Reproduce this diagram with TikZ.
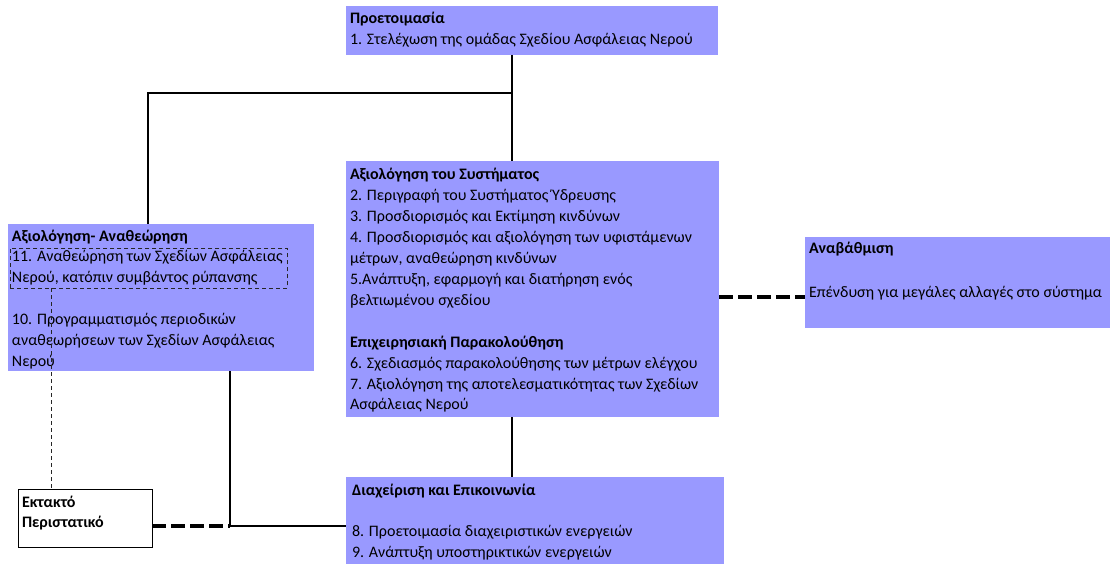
\documentclass[tikz,border=0pt]{standalone}
\usepackage{fontspec}
\setmainfont{Carlito}
\definecolor{boxblue}{RGB}{153,153,255}
\tikzset{
  panel/.style={fill=boxblue, draw=none, anchor=north west, inner sep=0pt, outer sep=0pt},
  whitepanel/.style={fill=white, draw=black, line width=1pt, anchor=north west, inner sep=0pt, outer sep=0pt},
  caption/.style={anchor=base west, inner sep=0pt, outer sep=0pt, font=\fontsize{16pt}{20.9pt}\selectfont},
  link/.style={line width=2pt},
  heavydash/.style={line width=4.3pt, dash pattern=on 14pt off 5pt},
  finedash/.style={line width=0.9pt, dash pattern=on 4pt off 3pt, draw=black!85},
}
\begin{document}
\begin{tikzpicture}[x=1pt,y=-1pt]
\useasboundingbox (0,0) rectangle (1110,564);

% panels
\node[panel, minimum width=372pt, minimum height=49pt] (prep) at (346,6) {};
\node[panel, minimum width=373pt, minimum height=256pt] (sys) at (346,161) {};
\node[panel, minimum width=306pt, minimum height=147pt] (rev) at (8,224) {};
\node[panel, minimum width=305pt, minimum height=91pt] (upg) at (805,237) {};
\node[panel, minimum width=378pt, minimum height=87pt] (mgmt) at (346,477) {};
\node[whitepanel, minimum width=134pt, minimum height=58pt] (emerg) at (18,489) {};

% junction points of the connectors
\coordinate (j1) at (512,93);
\coordinate (j2) at (148,93);
\coordinate (j3) at (230,526);
\coordinate (j4) at (762,297);
\coordinate (dropA) at (51,288);

% solid connectors
\draw[link] (j1 |- prep.south) -- (j1 |- sys.north);
\draw[link] (j1) -- (j2) -- (j2 |- rev.north);
\draw[link] (j1 |- sys.south) -- (j1 |- mgmt.north);
\draw[link] (j3 |- rev.south) -- (j3) -- (j3 -| mgmt.west);

% heavy dashed connectors
\draw[heavydash] (j3 -| emerg.east) -- (j3);
\draw[heavydash] (j4 -| sys.east) -- (j4 -| upg.west);

% texts
\node[caption] (prepText) at (350,24) {\parbox[t]{366pt}{\textbf{Προετοιμασία}\\
1. Στελέχωση της ομάδας Σχεδίου Ασφάλειας Νερού}};

\node[caption] (sysText) at (350,180) {\parbox[t]{366pt}{\textbf{Αξιολόγηση του Συστήματος}\\
2. Περιγραφή του Συστήματος Ύδρευσης\\
3. Προσδιορισμός και Εκτίμηση κινδύνων\\
4. Προσδιορισμός και αξιολόγηση των υφιστάμενων\\
μέτρων, αναθεώρηση κινδύνων\\
5.Ανάπτυξη, εφαρμογή και διατήρηση ενός\\
βελτιωμένου σχεδίου\\[20.9pt]
\textbf{Επιχειρησιακή Παρακολούθηση}\\
6. Σχεδιασμός παρακολούθησης των μέτρων ελέγχου\\
7. Αξιολόγηση της αποτελεσματικότητας των Σχεδίων\\
Ασφάλειας Νερού}};

\node[caption] (revText) at (12,241) {\parbox[t]{300pt}{\textbf{Αξιολόγηση- Αναθεώρηση}\\
11. Αναθεώρηση των Σχεδίων Ασφάλειας\\
Νερού, κατόπιν συμβάντος ρύπανσης\\[20.9pt]
10. Προγραμματισμός περιοδικών\\
αναθεωρήσεων των Σχεδίων Ασφάλειας\\
Νερού}};

\node[caption] (upgText) at (809,253) {\parbox[t]{300pt}{\textbf{Αναβάθμιση}\\[24pt]
Επένδυση για μεγάλες αλλαγές στο σύστημα}};

\node[caption] (mgmtText) at (352,495) {\parbox[t]{370pt}{\textbf{Διαχείριση και Επικοινωνία}\\[20.9pt]
8. Προετοιμασία διαχειριστικών ενεργειών\\
9. Ανάπτυξη υποστηρικτικών ενεργειών}};

\node[caption] (emergText) at (22,507) {\parbox[t]{128pt}{\textbf{Εκτακτό}\\
\textbf{Περιστατικό}}};

% event 11 frame and its link to the emergency box
\node[finedash, draw, anchor=north west, inner sep=0pt, minimum width=277pt, minimum height=40pt] (ev11) at (10,248) {};
\draw[finedash] (dropA) -- (dropA |- emerg.north);
\end{tikzpicture}
\end{document}
